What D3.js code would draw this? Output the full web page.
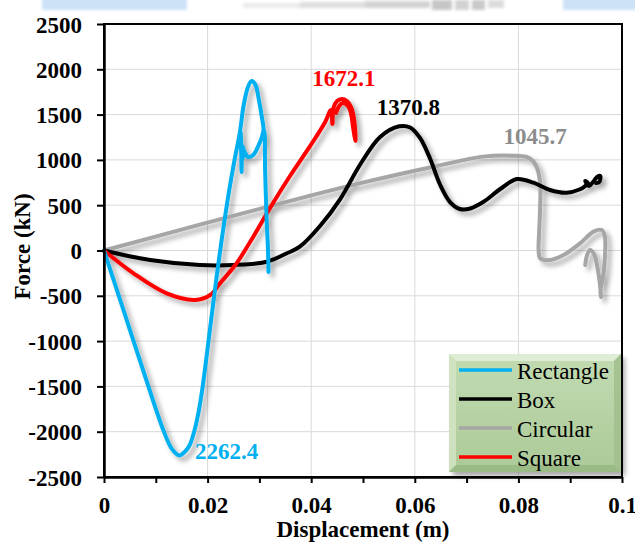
<!DOCTYPE html>
<html>
<head>
<meta charset="utf-8">
<script src="https://cdn.jsdelivr.net/npm/d3@7/dist/d3.min.js"></script>
<style>
  html, body { margin: 0; padding: 0; background: #ffffff; }
  svg { display: block; }
  text { font-family: "Liberation Serif", "Times New Roman", serif; }
</style>
</head>
<body>
<svg id="chart" width="635" height="544"></svg>
<script>
// Force-displacement responses of the four section shapes
// each entry: [displacement (m), force (kN)]
const rectangle = [
  [0, 0], [0.0040, -700], [0.0080, -1400], [0.0115, -1990], [0.0131, -2190],
  [0.0145, -2262.4], [0.0158, -2210], [0.0166, -2140], [0.0174, -2000], [0.0182, -1800],
  [0.0190, -1520], [0.0198, -1172], [0.0210, -620], [0.0220, -180], [0.0230, 230],
  [0.0241, 640], [0.0252, 1000], [0.0262, 1297], [0.0270, 1617], [0.0278, 1805],
  [0.0285, 1870], [0.02925, 1827], [0.0299, 1662], [0.0305, 1463], [0.0308, 1330],
  [0.0304, 1240], [0.0297, 1143], [0.0288, 1054], [0.0278, 1032], [0.0271, 1087],
  [0.02675, 1150], [0.0266, 1000], [0.02655, 867], [0.0265, 1150], [0.0264, 1300],
  [0.02665, 1000], [0.0271, 1087], [0.0278, 1032], [0.0288, 1054], [0.0297, 1143],
  [0.0304, 1240], [0.0309, 1330], [0.0311, 889], [0.0314, 337], [0.03166, 6],
  [0.03176, -237]
];
const box = [
  [0, 0], [0.0089, -105], [0.0185, -160], [0.0250, -160], [0.0314, -124],
  [0.0353, -31], [0.0378, 42], [0.0417, 270], [0.0456, 568], [0.0494, 944],
  [0.0533, 1253], [0.0570, 1370.8], [0.0591, 1358], [0.0610, 1242], [0.0629, 1021],
  [0.0649, 723], [0.0668, 535], [0.0687, 458], [0.0707, 464], [0.0732, 535],
  [0.0765, 679], [0.0797, 789], [0.0829, 749], [0.0861, 668], [0.0893, 638],
  [0.0919, 676], [0.0929, 712], [0.0934, 745], [0.0929, 767], [0.0936, 712],
  [0.0944, 756], [0.0952, 811], [0.0958, 822], [0.0956, 756], [0.0950, 745]
];
const circular = [
  [0, 0], [0.0185, 285], [0.0378, 576], [0.0507, 760], [0.0636, 925],
  [0.0732, 1036], [0.0790, 1045.7], [0.0816, 1032], [0.0828, 988], [0.0836, 911],
  [0.0842, 742], [0.0842, 484], [0.0840, 193], [0.0839, 6], [0.0842, -86],
  [0.0861, -105], [0.0887, -50], [0.0919, 79], [0.0945, 208], [0.0961, 226],
  [0.0967, 152], [0.0967, -68], [0.0964, -270], [0.09585, -436], [0.09595, -513],
  [0.0957, -348], [0.0952, -171], [0.0946, -39], [0.0938, 6], [0.0932, -61],
  [0.0929, -160]
];
const square = [
  [0, 0], [0.0057, -252], [0.0121, -473], [0.0176, -546], [0.0205, -491],
  [0.0224, -362], [0.0256, -141], [0.0282, 94], [0.0324, 502], [0.0359, 822],
  [0.0398, 1154], [0.0427, 1419], [0.0438, 1551], [0.0441, 1397], [0.0443, 1573],
  [0.0450, 1650], [0.0459, 1672.1], [0.0469, 1650], [0.0477, 1584], [0.0483, 1441],
  [0.04855, 1209], [0.0481, 1352], [0.0477, 1507], [0.0471, 1595], [0.0461, 1628],
  [0.0454, 1595], [0.0448, 1518]
];

const seriesNames  = ["Rectangle", "Box", "Circular", "Square"];
const seriesData   = [rectangle, box, circular, square];
const seriesColors = ["#00b0f0", "#000000", "#a6a6a6", "#ff0000"];

const xTicks = [0, 0.01, 0.02, 0.03, 0.04, 0.05, 0.06, 0.07, 0.08, 0.09, 0.1];
const xTickLabels = ["0", "", "0.02", "", "0.04", "", "0.06", "", "0.08", "", "0.1"];
const yTicks = [-2500, -2000, -1500, -1000, -500, 0, 500, 1000, 1500, 2000, 2500];

const svg = d3.select("#chart");
const W = 635, H = 544;
const margin = { top: 24, right: 13, bottom: 67, left: 104 };

const x = d3.scaleLinear().domain([0, 0.1]).range([margin.left, W - margin.right]);
const y = d3.scaleLinear().domain([-2500, 2500]).range([H - margin.bottom, margin.top]);

const defs = svg.append("defs");
const shadow = defs.append("filter").attr("id", "shadow")
  .attr("x", "-20%").attr("y", "-20%").attr("width", "140%").attr("height", "140%");
shadow.append("feDropShadow").attr("dx", 4).attr("dy", 4).attr("stdDeviation", 2.8)
  .attr("flood-color", "#000").attr("flood-opacity", 0.34);
const soft = defs.append("filter").attr("id", "soft");
soft.append("feGaussianBlur").attr("stdDeviation", 1.4);

// faint strip along the top edge
const strip = svg.append("g").attr("filter", "url(#soft)");
strip.append("rect").attr("x", 42).attr("y", -2).attr("width", 145).attr("height", 12).attr("fill", "#cce1f5");
strip.append("rect").attr("x", 563).attr("y", -2).attr("width", 80).attr("height", 12).attr("fill", "#cce1f5");
[[243, 3, 60, 5, "#ebebeb"], [300, 2, 70, 6, "#dedede"], [365, 1, 65, 7, "#d3d3d3"],
 [432, 0, 20, 10, "#c6c6c6"], [455, 0, 14, 10, "#d2d2d2"], [472, 0, 13, 10, "#c9c9c9"],
 [488, 0, 16, 8, "#dcdcdc"]].forEach(r => {
  strip.append("rect").attr("x", r[0]).attr("y", r[1]).attr("width", r[2]).attr("height", r[3]).attr("fill", r[4]);
});

// gridlines
const grid = svg.append("g");
grid.selectAll(".gx").data(xTicks.filter((d, i) => i % 2 === 0 && i > 0 && i < xTicks.length - 1))
  .join("line").attr("x1", d => x(d)).attr("x2", d => x(d))
  .attr("y1", y(2500)).attr("y2", y(-2500)).attr("stroke", "#d9d9d9").attr("stroke-width", 1);
grid.selectAll(".gy").data(yTicks.slice(1, -1))
  .join("line").attr("y1", d => y(d)).attr("y2", d => y(d))
  .attr("x1", x(0)).attr("x2", x(0.1)).attr("stroke", "#d9d9d9").attr("stroke-width", 1);

// curves
const line = d3.line().x(d => x(d[0])).y(d => y(d[1])).curve(d3.curveCatmullRom.alpha(0.5));
const curves = svg.append("g").attr("filter", "url(#shadow)");
// draw order: circular, box, square, rectangle on top
[2, 1, 3, 0].forEach(i => {
  curves.append("path").datum(seriesData[i]).attr("d", line)
    .attr("fill", "none").attr("stroke", seriesColors[i]).attr("stroke-width", 4)
    .attr("stroke-linejoin", "round").attr("stroke-linecap", "round");
});

// frame
svg.append("rect").attr("x", x(0)).attr("y", y(2500))
  .attr("width", x(0.1) - x(0)).attr("height", y(-2500) - y(2500))
  .attr("fill", "none").attr("stroke", "#000").attr("stroke-width", 2);

// axes
const xAxis = svg.append("g").attr("transform", `translate(0,${y(-2500)})`)
  .call(d3.axisBottom(x).tickValues(xTicks).tickSize(6).tickSizeOuter(0)
    .tickFormat((d, i) => xTickLabels[i]));
xAxis.select(".domain").attr("stroke-width", 2.5);
xAxis.selectAll(".tick line").attr("stroke-width", 2);
xAxis.selectAll(".tick text").attr("y", 36).attr("dy", 0)
  .style("font-family", "'Liberation Serif', serif").style("font-weight", "bold")
  .style("font-size", "23px").attr("fill", "#000");

const yAxis = svg.append("g").attr("transform", `translate(${x(0)},0)`)
  .call(d3.axisLeft(y).tickValues(yTicks).tickSize(7).tickSizeOuter(0).tickFormat(d => String(d)));
yAxis.select(".domain").attr("stroke-width", 2.5);
yAxis.selectAll(".tick line").attr("stroke-width", 2);
yAxis.selectAll(".tick text").attr("x", -22).attr("dy", "0.35em")
  .style("font-family", "'Liberation Serif', serif").style("font-weight", "bold")
  .style("font-size", "23px").attr("fill", "#000");

// axis titles
svg.append("text").attr("x", (x(0) + x(0.1)) / 2).attr("y", 537)
  .attr("text-anchor", "middle").style("font-weight", "bold").style("font-size", "23px")
  .text("Displacement (m)");
svg.append("text").attr("transform", `translate(30,${(y(2500) + y(-2500)) / 2 - 4}) rotate(-90)`)
  .attr("text-anchor", "middle").style("font-weight", "bold").style("font-size", "23px")
  .text("Force (kN)");

// peak value annotations
function extremeOf(data, useMin) {
  return data.reduce((a, b) => (useMin ? b[1] < a[1] : b[1] > a[1]) ? b : a);
}
const annotations = [
  { i: 3, min: false, dx: 2, dy: -13, anchor: "middle" },
  { i: 1, min: false, dx: 9, dy: -11, anchor: "middle" },
  { i: 2, min: false, dx: 22, dy: -12, anchor: "middle" },
  { i: 0, min: true, dx: 16, dy: 4, anchor: "start" }
];
annotations.forEach(a => {
  const p = extremeOf(seriesData[a.i], a.min);
  svg.append("text").attr("x", x(p[0]) + a.dx).attr("y", y(p[1]) + a.dy)
    .attr("text-anchor", a.anchor).style("font-weight", "bold").style("font-size", "23px")
    .attr("fill", a.i === 2 ? "#8c8c8c" : seriesColors[a.i])
    .text(Math.abs(p[1]).toFixed(1));
});

// legend
const lg = { x: 449, y: 354, w: 172, h: 118, b: 7 };
const grad = defs.append("linearGradient").attr("id", "legendFill")
  .attr("x1", 0).attr("y1", 0).attr("x2", 0).attr("y2", 1);
grad.append("stop").attr("offset", 0).attr("stop-color", "#c2dbb2");
grad.append("stop").attr("offset", 1).attr("stop-color", "#acca98");
const legend = svg.append("g");
legend.append("rect").attr("x", lg.x).attr("y", lg.y).attr("width", lg.w).attr("height", lg.h)
  .attr("fill", "url(#legendFill)").attr("filter", "url(#shadow)");
const L = lg.x, T = lg.y, R = lg.x + lg.w, B = lg.y + lg.h, b = lg.b;
[
  [[L, T], [R, T], [R - b, T + b], [L + b, T + b], "#e2eed9"],
  [[L, T], [L + b, T + b], [L + b, B - b], [L, B], "#d0e3c3"],
  [[R, T], [R, B], [R - b, B - b], [R - b, T + b], "#a2c08d"],
  [[L, B], [L + b, B - b], [R - b, B - b], [R, B], "#98b884"]
].forEach(q => {
  legend.append("polygon").attr("points", q.slice(0, 4).map(p => p.join(",")).join(" "))
    .attr("fill", q[4]).attr("opacity", 0.9);
});
seriesNames.forEach((name, i) => {
  const ry = 370 + i * 29;
  legend.append("line").attr("x1", 459).attr("x2", 512).attr("y1", ry).attr("y2", ry)
    .attr("stroke", seriesColors[i]).attr("stroke-width", 3.5);
  legend.append("text").attr("x", 517).attr("y", ry + 8.5)
    .style("font-size", "23px").attr("fill", "#000").text(name);
});
</script>
</body>
</html>
